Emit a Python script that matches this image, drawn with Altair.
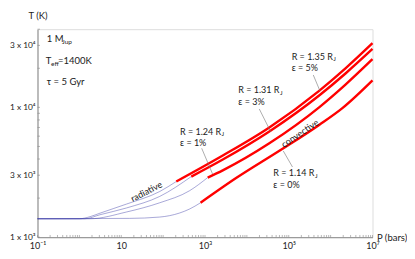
import math
import altair as alt
import pandas as pd

# ---------------- data ----------------
curves = ["5%", "3%", "1%", "0%"]

rad_P = {
    "5%": [0.1, 1.0, 1.8, 3.1, 13.3, 83, 206],
    "3%": [0.1, 1.35, 3.1, 13.3, 83, 470],
    "1%": [0.1, 1.8, 13.3, 83, 428, 1160],
    "0%": [0.1, 15.9, 83, 247, 428, 782],
}
rad_T = {
    "5%": [1387, 1387, 1439, 1531, 1799, 2249, 2685],
    "3%": [1387, 1387, 1489, 1679, 2061, 2930],
    "1%": [1387, 1387, 1563, 1841, 2280, 2880],
    "0%": [1387, 1396, 1429, 1535, 1648, 1841],
}
conv_P = {
    "5%": [206, 2660, 34400, 532000, 2300000, 10000000],
    "3%": [470, 2660, 34400, 532000, 2300000, 10000000],
    "1%": [1160, 2660, 34400, 532000, 2300000, 10000000],
    "0%": [782, 5530, 65200, 532000, 1910000, 10000000],
}
conv_T = {
    "5%": [2685, 4256, 7000, 13400, 20050, 31190],
    "3%": [2930, 3963, 6516, 12330, 18320, 28180],
    "1%": [2880, 3273, 5284, 10000, 15030, 23500],
    "0%": [1841, 2851, 4710, 7328, 9863, 16140],
}

x_tick_values = [0.1, 10, 1000, 100000, 10000000]
y_tick_values = [1000, 3000, 10000, 30000]
y_tick_labels = ["1 x 10³", "3 x 10³", "1 x 10⁴", "3 x 10⁴"]
x_minor = [m * 10 ** k for k in range(-1, 7) for m in range(1, 10)] + [10000000]
y_minor = [m * 10 ** k for k in range(3, 5) for m in range(1, 10) if m * 10 ** k <= 40000]

# ---------------- layout ----------------
W, H = 335, 208
FONT = "Lato"
TXT = "#222222"

rows = []
for c in curves:
    for i, (p, t) in enumerate(zip(rad_P[c], rad_T[c])):
        rows.append(dict(curve=c, phase="radiative", P=p, T=t, i=i))
    for i, (p, t) in enumerate(zip(conv_P[c], conv_T[c])):
        rows.append(dict(curve=c, phase="convective", P=p, T=t, i=i))
df = pd.DataFrame(rows)

xs = alt.Scale(type="log", domain=[0.1, 10000000], nice=False)
ys = alt.Scale(type="log", domain=[1000, 40000], nice=False)

x_label_expr = ("datum.value < 1 ? '10⁻¹' : datum.value < 100 ? '10' : "
                "datum.value < 10000 ? '10³' : datum.value < 1000000 ? '10⁵' : '10⁷'")
y_label_expr = ("datum.value < 2000 ? '%s' : datum.value < 5000 ? '%s' : "
                "datum.value < 20000 ? '%s' : '%s'" % tuple(y_tick_labels))

xaxis = alt.Axis(values=x_tick_values, labelExpr=x_label_expr, ticks=False, grid=False,
                 domainColor="#8a8a8a", domainWidth=1, labelFont=FONT, labelFontSize=9,
                 labelColor=TXT, labelPadding=4, labelFlush=False, labelOverlap=False,
                 title="P (bars)", titleFont=FONT, titleFontSize=9.5, titleFontWeight="normal",
                 titleColor=TXT, titleX=W + 4, titleY=0, titleAlign="left",
                 titleBaseline="middle", titleAngle=0)
yaxis = alt.Axis(values=y_tick_values, labelExpr=y_label_expr, ticks=False, grid=False,
                 domainColor="#8a8a8a", domainWidth=1, labelFont=FONT, labelFontSize=8.3,
                 labelColor=TXT, labelPadding=2.5, labelFlush=False, labelOverlap=False,
                 title="T (K)", titleFont=FONT, titleFontSize=9.5, titleFontWeight="normal",
                 titleColor=TXT, titleX=0, titleY=-14, titleAlign="center",
                 titleBaseline="middle", titleAngle=0)

X = alt.X("P:Q", scale=xs, axis=xaxis)
Y = alt.Y("T:Q", scale=ys, axis=yaxis)

base = alt.Chart(df)
rad = base.transform_filter(alt.datum.phase == "radiative").mark_line(
    color="#3a3aa6", strokeWidth=0.8, opacity=0.55, interpolate="monotone"
).encode(x=X, y=Y, detail="curve:N", order="i:Q")
conv = base.transform_filter(alt.datum.phase == "convective").mark_line(
    color="#ff0000", strokeWidth=2.4, interpolate="monotone"
).encode(x=X, y=Y, detail="curve:N", order="i:Q")

xt = pd.DataFrame({"P": x_minor})
x_ticks = alt.Chart(xt).mark_rule(color="#8a8a8a", strokeWidth=0.6).encode(
    x=X, y=alt.value(H), y2=alt.value(H - 2.2))
yt = pd.DataFrame({"T": y_minor})
y_ticks = alt.Chart(yt).mark_rule(color="#8a8a8a", strokeWidth=0.6).encode(
    y=Y, x=alt.value(0), x2=alt.value(2.5))

# ---------------- annotations ----------------
one = pd.DataFrame({"k": [0]})
layers = [rad, conv, x_ticks, y_ticks]


def txt(s, x, y, size=9.0, angle=0, align="left"):
    layers.append(alt.Chart(one).mark_text(
        text=s, font=FONT, fontSize=size, color=TXT, align=align, baseline="middle",
        angle=angle).encode(x=alt.value(x), y=alt.value(y)))


def leader(x1, y1, x2, y2):
    layers.append(alt.Chart(one).mark_rule(color="#777777", strokeWidth=0.6).encode(
        x=alt.value(x1), y=alt.value(y1), x2=alt.value(x2), y2=alt.value(y2)))


txt("1 M", 9.2, 10.1, size=9.5)
txt("Jup", 24.5, 12.6, size=6.5)
txt("T", 8.2, 31.8, size=9.5)
txt("eff", 13.5, 34.4, size=6.5)
txt("=1400K", 20.5, 31.8, size=9.5)
txt("τ = 5 Gyr", 9.2, 52.5, size=9.5)

JX = 41.6
for s, e, x, y in [("1.35", "5%", 254.2, 27.5), ("1.31", "3%", 200.8, 60.8),
                   ("1.24", "1%", 142.5, 102.5), ("1.14", "0%", 235.8, 144.1)]:
    txt("R = %s R" % s, x, y)
    txt("J", x + JX, y + 2.7, size=6.2)
    txt("ε = %s" % e, x, y + 11.8)

txt("convective", 262.5, 104.3, size=9, angle=326, align="center")
txt("radiative", 109, 162.5, size=9, angle=333, align="center")

leader(275.8, 45.8, 282.5, 61.8)
leader(221.8, 79.8, 233.2, 102.5)
leader(164.2, 119.1, 175.2, 145.1)
leader(245.8, 121.8, 255, 137.8)

chart = alt.layer(*layers).properties(
    width=W, height=H,
    autosize=alt.AutoSizeParams(type="none"),
    padding={"left": 29.5, "top": 21.2, "right": 34.5, "bottom": 19},
).configure_view(stroke=None).configure(background="white")

chart.save("out.html", embed_options={"renderer": "svg", "actions": False})
